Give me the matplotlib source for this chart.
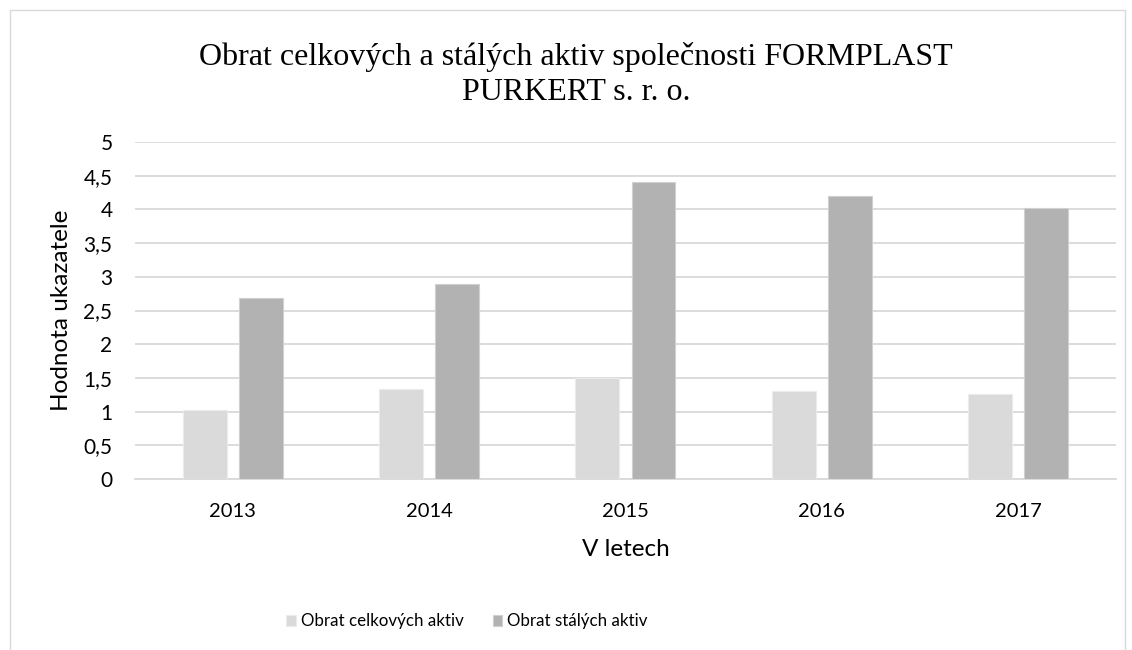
import numpy as np
import matplotlib.pyplot as plt
from matplotlib.patches import Rectangle

years = ["2013", "2014", "2015", "2016", "2017"]
obrat_celkovych = [1.03, 1.33, 1.50, 1.30, 1.26]
obrat_stalych = [2.68, 2.90, 4.41, 4.20, 4.02]
y_ticks = [0, 0.5, 1, 1.5, 2, 2.5, 3, 3.5, 4, 4.5, 5]
y_labels = ["0", "0,5", "1", "1,5", "2", "2,5", "3", "3,5", "4", "4,5", "5"]

plt.rcParams['font.family'] = ['Lato', 'DejaVu Sans']

fig = plt.figure(figsize=(11.32, 6.5), dpi=100)
ax = fig.add_axes([0.119, 0.263, 0.867, 0.5185])

# vnější rámeček grafu
fig.patches.append(Rectangle((10 / 1132, -0.1), 1115 / 1132, 1.1 - 10 / 650,
                             transform=fig.transFigure, fill=False,
                             edgecolor="#d9d9d9", linewidth=1))

x = np.arange(len(years))
w = 0.224
ax.bar(x - 0.143, obrat_celkovych, w, color="#dadada", edgecolor="#ececec",
       linewidth=0.8, label="Obrat celkových aktiv", zorder=3)
ax.bar(x + 0.143, obrat_stalych, w, color="#b2b2b2", edgecolor="#d0d0d0",
       linewidth=0.8, label="Obrat stálých aktiv", zorder=3)

ax.set_xlim(-0.5, len(years) - 0.5)
ax.set_ylim(0, 5)
ax.set_yticks(y_ticks)
ax.set_yticklabels(y_labels)
ax.set_xticks(x)
ax.set_xticklabels(years)
ax.tick_params(axis="y", length=0, labelsize=15, pad=16)
ax.tick_params(axis="x", length=0, labelsize=14.5, pad=17)
ax.grid(axis="y", color="#d9d9d9", linewidth=1.3, zorder=0)
for s in ["top", "right", "left"]:
    ax.spines[s].set_visible(False)
ax.spines["bottom"].set_color("#d9d9d9")
ax.spines["bottom"].set_linewidth(1.3)

ax.set_ylabel("Hodnota ukazatele", fontsize=17.5, labelpad=8)
ax.set_xlabel("V letech", fontsize=17.5, labelpad=14)

# titulek - dva řádky jako v Excelu
fig.text(0.509, 1 - 65 / 650, "Obrat celkových a stálých aktiv společnosti FORMPLAST",
         ha="center", va="baseline", fontsize=23, family="Liberation Serif")
fig.text(0.509, 1 - 100 / 650, "PURKERT s. r. o.",
         ha="center", va="baseline", fontsize=23, family="Liberation Serif")

fig.legend(loc="center", bbox_to_anchor=(0.4125, 0.044), ncol=2, frameon=False,
           fontsize=12.2, handlelength=0.55, handleheight=0.55, handletextpad=0.3,
           columnspacing=1.7)

fig.savefig("out.png", dpi=100)
